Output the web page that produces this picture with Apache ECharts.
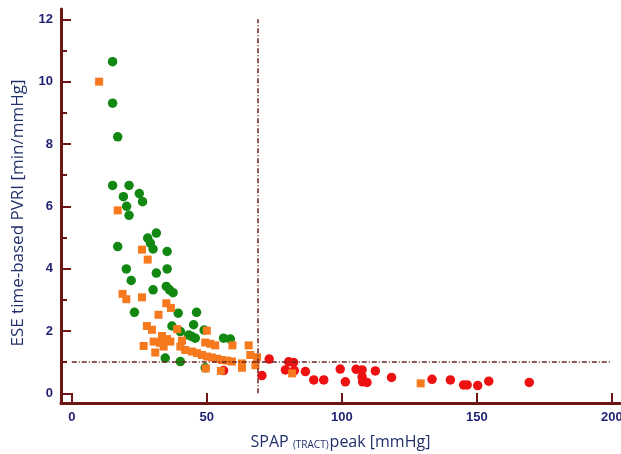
<!DOCTYPE html>
<html>
<head>
<meta charset="utf-8">
<script src="https://cdn.jsdelivr.net/npm/echarts@6/dist/echarts.min.js"></script>
<style>html,body{margin:0;padding:0;background:#fff}#c{width:621px;height:454px}</style>
</head>
<body>
<div id="c"></div>
<script>
// Data: [SPAP peak mmHg, PVRI min/mmHg]
var greenPoints = [[15.1,10.64],[15.1,9.31],[17.0,8.23],[15.1,6.67],[21.2,6.67],[19.1,6.31],[25.0,6.41],[26.2,6.15],[20.3,6.0],[21.2,5.71],[31.3,5.14],[28.1,4.98],[29.1,4.82],[30.1,4.63],[17.0,4.71],[35.3,4.55],[20.2,3.99],[35.3,3.99],[31.3,3.86],[22.0,3.62],[30.1,3.32],[35.0,3.43],[36.2,3.32],[37.5,3.23],[23.2,2.6],[39.4,2.57],[46.2,2.6],[45.1,2.2],[37.1,2.16],[40.2,1.98],[43.3,1.87],[44.5,1.82],[45.7,1.77],[56.2,1.77],[58.7,1.74],[34.6,1.13],[40.2,1.02],[49.4,0.82],[49.0,2.03]];
var orangePoints = [[10.1,10.0],[17.0,5.87],[26.0,4.61],[28.1,4.29],[18.8,3.19],[20.2,3.02],[26.0,3.08],[35.0,2.89],[36.7,2.74],[32.1,2.52],[27.8,2.16],[29.7,2.04],[39.0,2.06],[50.0,2.01],[33.4,1.84],[35.3,1.74],[36.5,1.66],[30.3,1.66],[32.6,1.62],[26.6,1.52],[40.8,1.69],[49.4,1.63],[51.3,1.59],[53.1,1.54],[59.5,1.54],[65.5,1.54],[30.9,1.31],[34.0,1.50],[40.2,1.50],[42.0,1.39],[44.5,1.34],[46.4,1.29],[48.2,1.23],[50.1,1.18],[51.9,1.15],[53.8,1.11],[55.6,1.07],[57.5,1.05],[59.3,1.02],[66.1,1.23],[68.6,1.16],[63.0,0.96],[63.0,0.82],[68.0,0.90],[49.6,0.80],[55.2,0.72],[81.6,0.64],[129.2,0.32]];
var redPoints = [[73.1,1.10],[70.4,0.57],[56.2,0.73],[80.3,1.01],[82.1,0.99],[79.1,0.75],[82.4,0.73],[86.5,0.70],[89.6,0.43],[93.3,0.43],[99.4,0.78],[101.3,0.37],[105.3,0.77],[107.5,0.75],[107.5,0.53],[107.7,0.37],[109.3,0.35],[112.4,0.72],[118.4,0.51],[133.4,0.45],[140.2,0.43],[145.1,0.27],[146.4,0.27],[150.3,0.25],[154.4,0.39],[169.4,0.35]];
var xTicks = [0,50,100,150,200];
var yMajorTicks = [0,2,4,6,8,10,12];
var yMinorTicks = [1,3,5,7,9,11];
var cutoffX = 69;          // vertical reference line
var cutoffY = 1;           // horizontal reference line
var refXRange = [0,200];
var refYRange = [0,12];

var axisColor = '#6e1616';
var labelColor = '#1f1f72';
var titleColor = '#22306a';
var chart = echarts.init(document.getElementById('c'), null, {renderer:'canvas'});
var labelStyle = {color:labelColor, fontWeight:'bold', fontSize:13, fontFamily:'Liberation Sans, Arial, sans-serif'};
chart.setOption({
  animation:false,
  backgroundColor:'#fff',
  grid:{left:61, right:1, top:9, bottom:51, outerBoundsMode:'none', containLabel:false},
  xAxis:[{
    type:'value', min:-4, max:203,
    name:'{m|SPAP }{s|(TRACT)}{m|peak [mmHg]}',
    nameLocation:'middle', nameGap:27,
    nameTextStyle:{rich:{
      m:{fontSize:16, fontFamily:'Open Sans', color:titleColor, lineHeight:20, verticalAlign:'bottom'},
      s:{fontSize:10, fontFamily:'Open Sans', color:titleColor, lineHeight:20, verticalAlign:'bottom', padding:[8,1,0,0]}
    }},
    axisLine:{show:true, onZero:false, lineStyle:{color:axisColor, width:3}},
    axisTick:{show:true, inside:true, length:10, customValues:xTicks, lineStyle:{color:axisColor, width:2}},
    axisLabel:Object.assign({customValues:xTicks, margin:8}, labelStyle),
    splitLine:{show:false}
  }],
  yAxis:[{
    type:'value', min:-0.31, max:12.33,
    name:'ESE time-based PVRI [min/mmHg]',
    nameLocation:'middle', nameGap:34,
    nameTextStyle:{fontSize:17, fontFamily:'Open Sans', color:titleColor, padding:[0,14,0,0]},
    axisLine:{show:true, onZero:false, lineStyle:{color:axisColor, width:3}},
    axisTick:{show:true, inside:true, length:10, customValues:yMajorTicks, lineStyle:{color:axisColor, width:2}},
    axisLabel:Object.assign({customValues:yMajorTicks, margin:8}, labelStyle),
    splitLine:{show:false}
  },{
    type:'value', min:-0.31, max:12.33, position:'left',
    axisLine:{show:false, onZero:false},
    axisTick:{show:true, inside:true, length:6, customValues:yMinorTicks, lineStyle:{color:axisColor, width:2}},
    axisLabel:{show:false},
    splitLine:{show:false}
  }],
  series:[
    {type:'scatter', name:'green', data:greenPoints, symbol:'circle', symbolSize:9.5, itemStyle:{color:'#128812', opacity:1},
     markLine:{silent:true, symbol:'none', label:{show:false},
       lineStyle:{color:'#6b2222', width:1.5, type:[5,2,1,2]},
       data:[[{coord:[refXRange[0],cutoffY]},{coord:[refXRange[1],cutoffY]}],
             [{coord:[cutoffX,refYRange[0]]},{coord:[cutoffX,refYRange[1]]}]]}},
    {type:'scatter', name:'red', data:redPoints, symbol:'circle', symbolSize:9.5, itemStyle:{color:'#ee1111', opacity:1}},
    {type:'scatter', name:'orange', data:orangePoints, symbol:'rect', symbolSize:8, itemStyle:{color:'#f7791e', opacity:1}}
  ]
});
</script>
</body>
</html>
